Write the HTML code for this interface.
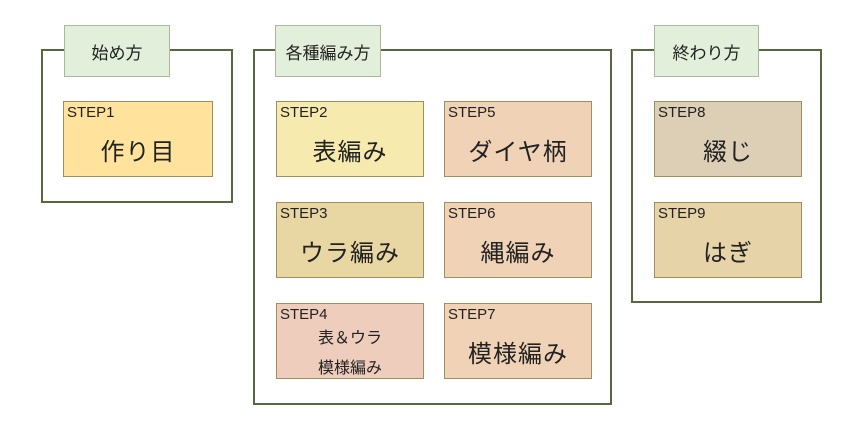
<!DOCTYPE html>
<html><head><meta charset="utf-8"><style>
body{margin:0;width:864px;height:430px;background:#fff;position:relative;overflow:hidden;font-family:"Liberation Sans","Noto Sans CJK JP",sans-serif;color:#222}
.g{position:absolute;border:2px solid #56683f;box-sizing:border-box}
.t{position:absolute;background:#e2efda;border:1px solid #a9b99a;box-sizing:border-box;font-size:17px;display:flex;align-items:center;justify-content:center}
.b{position:absolute;border:1px solid #a08f5c;box-sizing:border-box;width:148px;height:76px}
.s{position:absolute;left:3px;top:2px;font-size:15px}
.m{position:absolute;left:0;right:0;top:30px;text-align:center;font-size:24px;letter-spacing:1px}
</style></head><body>
<div class="g" style="left:41px;top:49px;width:192px;height:154px"></div>
<div class="g" style="left:253px;top:49px;width:359px;height:356px"></div>
<div class="g" style="left:631px;top:49px;width:191px;height:254px"></div>
<div class="t" style="left:64px;top:25px;width:106px;height:52px">始め方</div>
<div class="t" style="left:275px;top:25px;width:106px;height:52px">各種編み方</div>
<div class="t" style="left:654px;top:25px;width:105px;height:52px">終わり方</div>

<div class="b" style="left:63px;top:101px;width:150px;background:#ffe29b"><div class="s">STEP1</div><div class="m">作り目</div></div>
<div class="b" style="left:276px;top:101px;background:#f7eaae"><div class="s">STEP2</div><div class="m">表編み</div></div>
<div class="b" style="left:444px;top:101px;background:#f0d2b6"><div class="s">STEP5</div><div class="m">ダイヤ柄</div></div>
<div class="b" style="left:276px;top:202px;background:#e9d7a3"><div class="s">STEP3</div><div class="m">ウラ編み</div></div>
<div class="b" style="left:444px;top:202px;background:#f0d2b6"><div class="s">STEP6</div><div class="m">縄編み</div></div>
<div class="b" style="left:276px;top:303px;background:#efcdbd"><div class="s">STEP4</div><div style="position:absolute;left:0;right:0;top:20px;text-align:center;font-size:16px;line-height:30px">表＆ウラ<br>模様編み</div></div>
<div class="b" style="left:444px;top:303px;background:#f0d2b6"><div class="s">STEP7</div><div class="m">模様編み</div></div>
<div class="b" style="left:654px;top:101px;background:#dccfb5"><div class="s">STEP8</div><div class="m">綴じ</div></div>
<div class="b" style="left:654px;top:202px;background:#e6d3a8"><div class="s">STEP9</div><div class="m">はぎ</div></div>
</body></html>
